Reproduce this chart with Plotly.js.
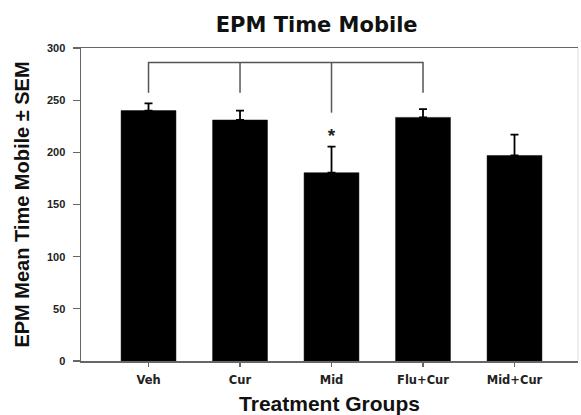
<!DOCTYPE html>
<html>
<head>
<meta charset="utf-8">
<script src="https://cdn.plot.ly/plotly-3.0.1.min.js"></script>
<style>html,body{margin:0;padding:0;background:#fff;}#chart{width:581px;height:415px;}</style>
</head>
<body>
<div id="chart"></div>
<script>
// Data
const groups = ["Veh", "Cur", "Mid", "Flu+Cur", "Mid+Cur"];
const meanTimeMobile = [240, 231, 180.5, 233.5, 197];
const sem = [7, 9, 25, 8, 20];

// Significance bracket (Veh, Cur, Mid, Flu+Cur joined at the top)
const bracketGroups = ["Veh", "Cur", "Mid", "Flu+Cur"];
const bracketTop = 286;
const bracketLegEnds = [257, 257, 238, 257];
const starGroup = ["Mid"];
const starLevel = [214];
const starText = ["<b>*</b>"];

const yTickVals = [0, 50, 100, 150, 200, 250, 300];

// Build bracket path
const bx = [], by = [];
const first = bracketGroups[0], last = bracketGroups[bracketGroups.length - 1];
bx.push(first, first, last, last);
by.push(bracketLegEnds[0], bracketTop, bracketTop, bracketLegEnds[bracketLegEnds.length - 1]);
for (let i = 1; i < bracketGroups.length - 1; i++) {
  bx.push(null, bracketGroups[i], bracketGroups[i]);
  by.push(null, bracketTop, bracketLegEnds[i]);
}

const traces = [
  {
    type: "bar",
    x: groups,
    y: meanTimeMobile,
    width: 0.6,
    marker: { color: "#000", line: { color: "#111", width: 0.5 } },
    error_y: { type: "data", array: sem, symmetric: false, arrayminus: sem.map(() => 0), color: "#000", thickness: 1.8, width: 4 },
    hoverinfo: "x+y"
  },
  {
    type: "scatter",
    mode: "lines",
    x: bx,
    y: by,
    line: { color: "#555", width: 1.5 },
    connectgaps: false,
    hoverinfo: "skip"
  },
  {
    type: "scatter",
    mode: "text",
    x: starGroup,
    y: starLevel,
    text: starText,
    textfont: { family: "Liberation Sans, Arial, sans-serif", size: 19, color: "#222" },
    hoverinfo: "skip"
  }
];

const layout = {
  width: 581,
  height: 415,
  margin: { l: 81, r: 3, t: 48, b: 54 },
  paper_bgcolor: "#fff",
  plot_bgcolor: "#fff",
  showlegend: false,
  title: {
    text: "<b>EPM Time Mobile</b>",
    font: { family: "DejaVu Sans, sans-serif", size: 21, color: "#111" },
    x: 0.545, xanchor: "center", xref: "container",
    y: 0.94, yanchor: "middle", yref: "container"
  },
  xaxis: {
    type: "category",
    range: [-0.738, 4.694],
    showgrid: false,
    zeroline: false,
    showline: true,
    linecolor: "#666",
    linewidth: 1.5,
    mirror: true,
    ticks: "outside",
    ticklen: 4,
    tickwidth: 1.2,
    tickcolor: "#666",
    tickfont: { family: "DejaVu Sans, sans-serif", size: 11.5, color: "#222", weight: "bold" },
    ticklabelstandoff: 4,
    title: {
      text: "<b>Treatment Groups</b>",
      font: { family: "Liberation Sans, Arial, sans-serif", size: 21, color: "#111" },
      standoff: 10
    },
    fixedrange: true
  },
  yaxis: {
    range: [0, 300],
    tickvals: yTickVals,
    showgrid: false,
    zeroline: false,
    showline: true,
    linecolor: "#666",
    linewidth: 1.5,
    ticks: "outside",
    ticklen: 7,
    tickwidth: 1.2,
    tickcolor: "#666",
    tickfont: { family: "Liberation Sans, Arial, sans-serif", size: 11, color: "#222", weight: "bold" },
    ticklabelstandoff: 5,
    title: {
      text: "<b>EPM Mean Time Mobile ± SEM</b>",
      font: { family: "Liberation Sans, Arial, sans-serif", size: 20, color: "#111" },
      standoff: 12
    },
    fixedrange: true
  },
  shapes: [
    { type: "line", xref: "paper", yref: "paper", x0: 1, x1: 1, y0: 0, y1: 1, line: { color: "#ddd", width: 1 } }
  ]
};

Plotly.newPlot("chart", traces, layout, { displayModeBar: false, staticPlot: true });
</script>
</body>
</html>
